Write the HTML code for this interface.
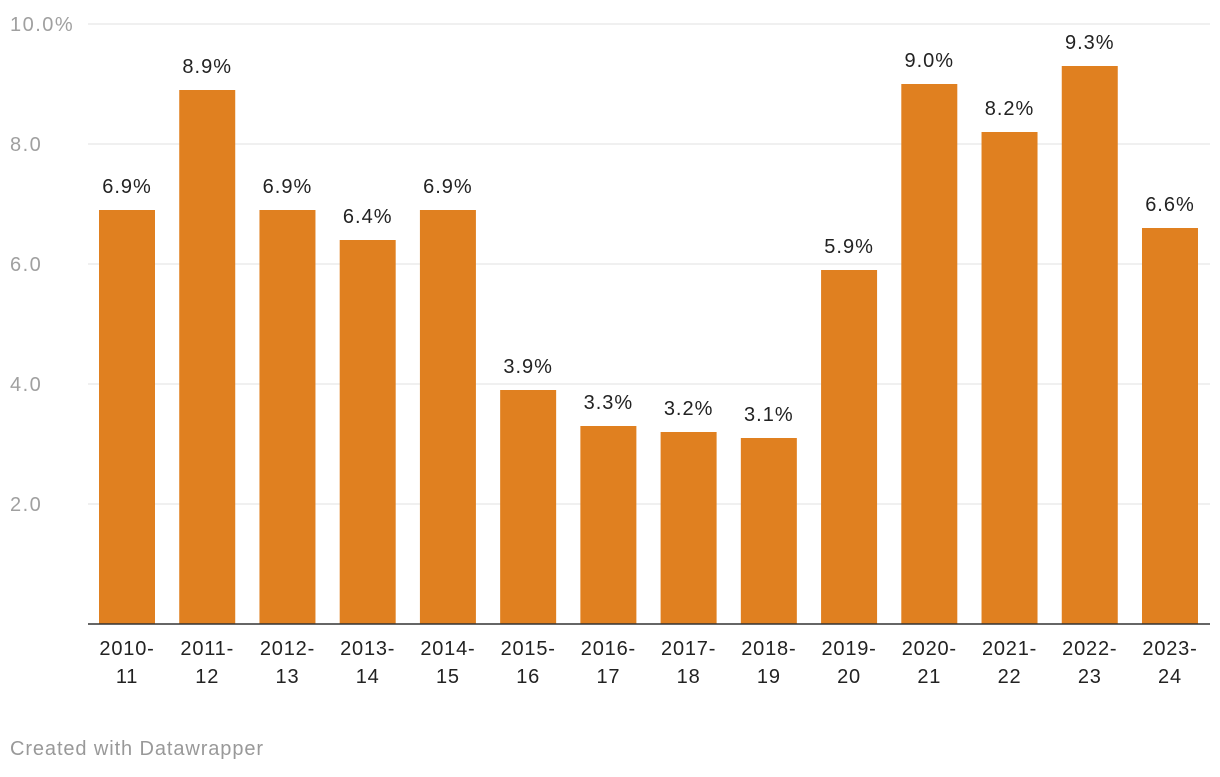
<!DOCTYPE html>
<html><head><meta charset="utf-8">
<style>
html,body{margin:0;padding:0;background:#fff;}
body{width:1220px;height:772px;overflow:hidden;font-family:"Liberation Sans",sans-serif;}
svg text{font-family:"Liberation Sans",sans-serif;}
</style></head>
<body>
<svg id="chart" width="1220" height="772" xmlns="http://www.w3.org/2000/svg">
  <g id="grid"></g>
  <g id="yticks"></g>
  <g id="bars"></g>
  <g id="xlabels"></g>
  <line x1="88" x2="1210" y1="624" y2="624" stroke="#333" stroke-width="1.5"/>
  <text x="10" y="755" font-size="20" letter-spacing="0.9" fill="#999">Created with Datawrapper</text>
</svg>
<script>
const categoriesTop = ["2010-","2011-","2012-","2013-","2014-","2015-","2016-","2017-","2018-","2019-","2020-","2021-","2022-","2023-"];
const categoriesBottom = ["11","12","13","14","15","16","17","18","19","20","21","22","23","24"];
const values = [6.9,8.9,6.9,6.4,6.9,3.9,3.3,3.2,3.1,5.9,9.0,8.2,9.3,6.6];
const yTicks = [2,4,6,8,10];
const yTickLabels = ["2.0","4.0","6.0","8.0","10.0%"];

const NS = "http://www.w3.org/2000/svg";
const y0 = 624, pxPerUnit = 60;
const yScale = v => y0 - v * pxPerUnit;
const x0 = 99, step = 80.23, bw = 56;
const xScale = i => x0 + i * step;

function mk(tag, attrs, parent, txt){
  const el = document.createElementNS(NS, tag);
  for (const k in attrs) el.setAttribute(k, attrs[k]);
  if (txt !== undefined) el.textContent = txt;
  parent.appendChild(el);
  return el;
}
const grid = document.getElementById('grid');
const yt = document.getElementById('yticks');
yTicks.forEach((t, i) => {
  const ln = mk('line', {x1:88, x2:1210, y1:yScale(t), y2:yScale(t), stroke:'#e2e2e2', 'stroke-width':1}, grid);
  
  
  const tx = mk('text', {x:10, y:yScale(t)+7, 'font-size':20, 'letter-spacing':1.5, fill:'#a0a0a0'}, yt, yTickLabels[i]);
  
  
});
const bars = document.getElementById('bars');
const xl = document.getElementById('xlabels');
values.forEach((v, i) => {
  const x = xScale(i);
  const r = mk('rect', {x:x, y:yScale(v), width:bw, height:v*pxPerUnit, fill:'#e08020'}, bars);
  
  
  const lb = mk('text', {x:x+bw/2, y:yScale(v)-17, 'font-size':20, 'letter-spacing':1, fill:'#222', 'text-anchor':'middle'}, bars, v.toFixed(1)+'%');
  
  
  const t1 = mk('text', {x:x+bw/2, y:655, 'font-size':20, 'letter-spacing':0.8, fill:'#222', 'text-anchor':'middle'}, xl, categoriesTop[i]);
  
  
  const t2 = mk('text', {x:x+bw/2, y:683, 'font-size':20, 'letter-spacing':0.8, fill:'#222', 'text-anchor':'middle'}, xl, categoriesBottom[i]);
  
  
});
</script>
</body></html>
